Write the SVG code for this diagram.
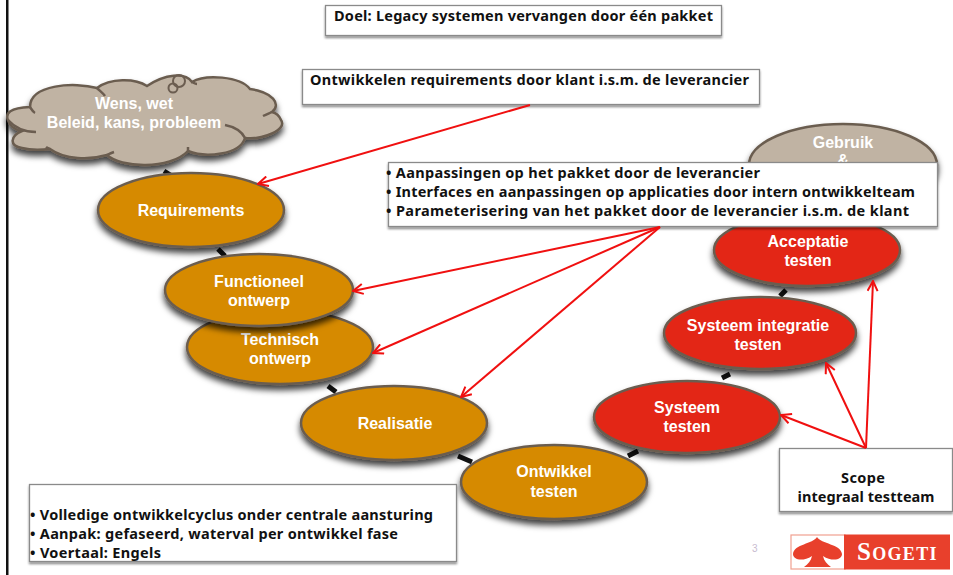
<svg xmlns="http://www.w3.org/2000/svg" width="953" height="575" viewBox="0 0 953 575">
<style>
.el{stroke:#6b5d50;stroke-width:2.500;filter:url(#sh)}
.or{fill:#d68a00}.rd{fill:#e32619}.tp{fill:#c0b3a3}
.nt{font:bold 16px "Liberation Sans",Arial,sans-serif;fill:#fff;text-anchor:middle}
.box{fill:#fff;stroke:#8a8a8a;stroke-width:1.3;filter:url(#bs)}
.bt{font:bold 14.5px "Noto Sans","DejaVu Sans",Verdana,sans-serif;fill:#111}
.red{stroke:#f01010;stroke-width:2;fill:none;marker-end:url(#ah)}
.blk{stroke:#111;stroke-width:5;fill:none}
</style>
<defs>
<filter id="sh" x="-15%" y="-20%" width="130%" height="150%"><feDropShadow dx="0" dy="5" stdDeviation="3" flood-color="#000" flood-opacity=".75"/></filter>
<filter id="bs" x="-5%" y="-10%" width="110%" height="125%"><feDropShadow dx="0" dy="2" stdDeviation="1" flood-color="#000" flood-opacity=".45"/></filter>
<marker id="ah" viewBox="0 0 12 12" refX="11" refY="6" markerWidth="12" markerHeight="12" markerUnits="userSpaceOnUse" orient="auto"><path d="M1 1L11 6L1 11" fill="none" stroke="#f01010" stroke-width="2"/></marker>
</defs>
<rect width="953" height="575" fill="#fff"/>
<rect x="6" y="0" width="2.500" height="575" fill="#111"/>
<g id="connectors-back">
<path class="blk" d="M164 171L172 176M218 249L225 256M328 386L336 392M458 456L472 462M628 456L638 451M722 378L730 374M780 296L786 290"/>
</g>
<g id="node-gebruik">
<ellipse class="el tp" cx="843" cy="165" rx="94" ry="41"/>
<text class="nt" x="843" y="148">Gebruik</text>
<text class="nt" x="843" y="166">&amp;</text>
</g>
<g id="node-wens">
<path class="el tp" d="M30 107C10 108 5 113 8 120C10 127 16 130 22 131C10 136 9 146 22 148C33 151 42 150 50 149C65 160 90 160 107 155C120 168 170 170 188 151C205 158 240 155 245 138C262 140 288 130 281 120C279 115 276 113 272 112C282 104 272 92 250 89C240 76 205 74 192 82C185 72 165 74 147 86C135 78 110 78 97 88C75 82 30 84 30 107Z"/>
<path d="M8 120C16 129 26 132 36 132M30 107C32 110 33 112 35 113M97 88C100 91 103 93 105 96M192 82C194 83 195 84 197 84M272 112C270 113 267 114 263 116M225 125C235 127 242 132 245 138M188 151C188 149 188 149 188 147M107 155C109 154 111 153 114 152M50 149C48 148 47 148 46 147" fill="none" stroke="#6b5d50" stroke-width="2.500"/>
<ellipse cx="179" cy="81" rx="6" ry="6" fill="none" stroke="#6b5d50" stroke-width="2"/>
<circle cx="173" cy="88" r="4.500" fill="none" stroke="#6b5d50" stroke-width="2"/>
<text class="nt" x="134" y="109">Wens, wet</text>
<text class="nt" x="134" y="128">Beleid, kans, probleem</text>
</g>
<g id="node-requirements">
<ellipse class="el or" cx="191" cy="210" rx="93" ry="37"/>
<text class="nt" x="191" y="216">Requirements</text>
</g>
<g id="node-technisch">
<ellipse class="el or" cx="280" cy="347" rx="93" ry="37"/>
<text class="nt" x="280" y="345">Technisch</text>
<text class="nt" x="280" y="364">ontwerp</text>
</g>
<g id="node-functioneel">
<ellipse class="el or" cx="259" cy="290" rx="94" ry="36"/>
<text class="nt" x="259" y="287">Functioneel</text>
<text class="nt" x="259" y="306">ontwerp</text>
</g>
<g id="node-realisatie">
<ellipse class="el or" cx="394" cy="423" rx="93" ry="37"/>
<text class="nt" x="395" y="429">Realisatie</text>
</g>
<g id="node-ontwikkel">
<ellipse class="el or" cx="554" cy="482" rx="93" ry="37"/>
<text class="nt" x="554" y="477">Ontwikkel</text>
<text class="nt" x="554" y="497">testen</text>
</g>
<g id="node-systeem">
<ellipse class="el rd" cx="687" cy="417" rx="93" ry="36"/>
<text class="nt" x="687" y="413">Systeem</text>
<text class="nt" x="687" y="432">testen</text>
</g>
<g id="node-integratie">
<ellipse class="el rd" cx="760" cy="333" rx="96" ry="36"/>
<text class="nt" x="758" y="331">Systeem integratie</text>
<text class="nt" x="758" y="350">testen</text>
</g>
<g id="node-acceptatie">
<ellipse class="el rd" cx="807" cy="250" rx="93" ry="36"/>
<text class="nt" x="808" y="247">Acceptatie</text>
<text class="nt" x="808" y="266">testen</text>
</g>
<g id="box-doel">
<rect class="box" x="325.500" y="5.500" width="396" height="30"/>
<text class="bt" x="334" y="21" textLength="379">Doel: Legacy systemen vervangen door één pakket</text>
</g>
<g id="box-ontwikkelen">
<rect class="box" x="302.500" y="69.500" width="457" height="35"/>
<text class="bt" x="310" y="85" textLength="439">Ontwikkelen requirements door klant i.s.m. de leverancier</text>
</g>
<g id="box-aanpassingen">
<rect class="box" x="388.500" y="162.500" width="549" height="64"/>
<text class="bt" x="386" y="178" textLength="374">• Aanpassingen op het pakket door de leverancier</text>
<text class="bt" x="386" y="197" textLength="529">• Interfaces en aanpassingen op applicaties door intern ontwikkelteam</text>
<text class="bt" x="386" y="216" textLength="523">• Parameterisering van het pakket door de leverancier i.s.m. de klant</text>
</g>
<g id="box-scope">
<rect class="box" x="779.500" y="448.500" width="173" height="63"/>
<text class="bt" x="863" y="483" text-anchor="middle" textLength="44">Scope</text>
<text class="bt" x="866" y="502" text-anchor="middle" textLength="137">integraal testteam</text>
</g>
<g id="box-bottom">
<rect class="box" x="29.500" y="484.500" width="427" height="77"/>
<text class="bt" x="30" y="520" textLength="403">• Volledige ontwikkelcyclus onder centrale aansturing</text>
<text class="bt" x="30" y="539" textLength="368">• Aanpak: gefaseerd, waterval per ontwikkel fase</text>
<text class="bt" x="30" y="558" textLength="131">• Voertaal: Engels</text>
</g>
<g id="connectors">
<path class="red" d="M530 105L258 184"/>
<path class="red" d="M660 227L353 291"/>
<path class="red" d="M660 227L373 353"/>
<path class="red" d="M660 227L461 397"/>
<path class="red" d="M866 448L781 415"/>
<path class="red" d="M866 448L826 363"/>
<path class="red" d="M866 448L873 281"/>
</g>
<text x="752" y="552" font-family="Liberation Sans, sans-serif" font-size="10" fill="#c8bcd0">3</text>
<g id="logo-sogeti">
<rect x="791" y="535" width="54" height="34" fill="#fff" stroke="#f0a090" stroke-width="1.200"/>
<rect x="844" y="534.500" width="106" height="35" fill="#e8402c"/>
<path d="M817 537C821 544 841 544 842 554C842 560 832 562 823 556C824 561 827 564 831 567L804 567C808 564 811 561 812 556C803 562 793 560 793 554C794 544 813 544 817 537Z" fill="#e8402c"/>
<text x="857" y="560" font-family="Liberation Serif, serif" font-weight="bold" font-size="25" fill="#fff" letter-spacing="1.300">S<tspan font-size="18">OGETI</tspan></text>
</g>
</svg>
